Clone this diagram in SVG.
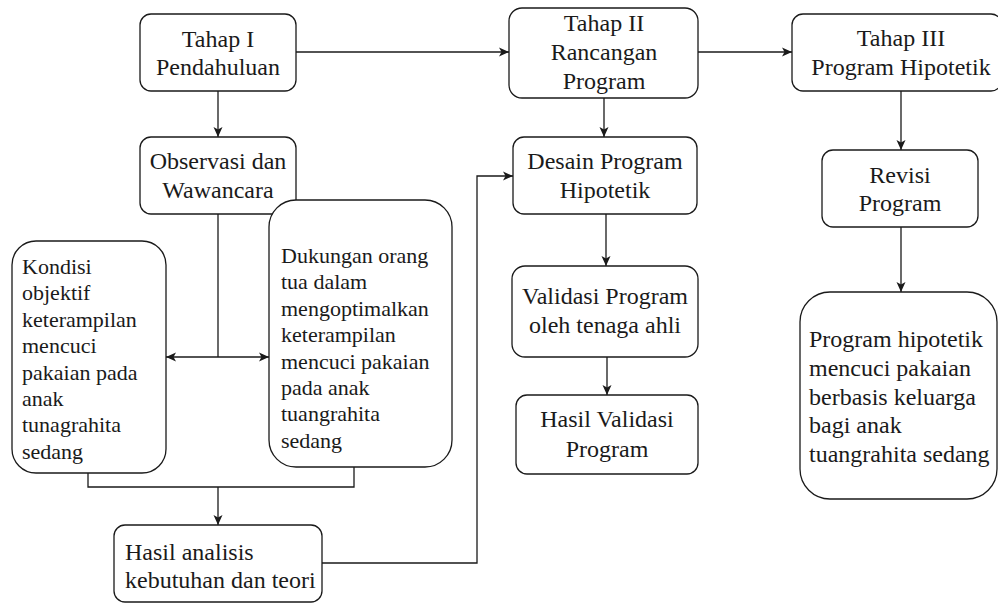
<svg xmlns="http://www.w3.org/2000/svg" width="998" height="603" viewBox="0 0 998 603">
<style>
.box{fill:#fff;stroke:#1a1a1a;stroke-width:1.3}
.t{font-size:24px;fill:#1a1a1a}
.s{font-size:22px}
.c{text-anchor:middle}
.ln{fill:none;stroke:#1a1a1a;stroke-width:1.3}
</style>
<defs>
<marker id="ar" viewBox="0 0 10 10" refX="10" refY="5" markerWidth="10" markerHeight="10" markerUnits="userSpaceOnUse" orient="auto">
<path d="M0,0.5 L10,5 L0,9.5 L2.5,5 z" fill="#1a1a1a"/>
</marker>
</defs>
<rect width="998" height="603" fill="#fff"/>
<g id="connectors">
<path class="ln" d="M296,52 H509" marker-end="url(#ar)"/>
<path class="ln" d="M698,52 H792" marker-end="url(#ar)"/>
<path class="ln" d="M218,91 V137" marker-end="url(#ar)"/>
<path class="ln" d="M604,98 V137" marker-end="url(#ar)"/>
<path class="ln" d="M901,91 V150" marker-end="url(#ar)"/>
<path class="ln" d="M218,214 V357"/>
<path class="ln" d="M218,357 H166" marker-end="url(#ar)"/>
<path class="ln" d="M218,357 H269" marker-end="url(#ar)"/>
<path class="ln" d="M88,473 V487 H354 V467"/>
<path class="ln" d="M218,487 V525" marker-end="url(#ar)"/>
<path class="ln" d="M322,563 H477 V176 H513" marker-end="url(#ar)"/>
<path class="ln" d="M606,214 V266" marker-end="url(#ar)"/>
<path class="ln" d="M607,357 V395" marker-end="url(#ar)"/>
<path class="ln" d="M901,227 V292" marker-end="url(#ar)"/>
</g>
<g id="nodes" font-family="Liberation Serif, DejaVu Serif, serif">
<g id="tahap1">
<rect class="box" x="140" y="14" width="156" height="77" rx="11"/>
<text class="t c" x="218" y="47">Tahap I</text>
<text class="t c" x="218" y="75">Pendahuluan</text>
</g>
<g id="observasi">
<rect class="box" x="140" y="137" width="156" height="77" rx="11"/>
<text class="t c" x="218" y="169">Observasi dan</text>
<text class="t c" x="218" y="198">Wawancara</text>
</g>
<g id="kondisi">
<rect class="box" x="12" y="241" width="154" height="232" rx="24"/>
<text class="t s" x="22" y="274">Kondisi</text>
<text class="t s" x="22" y="300">objektif</text>
<text class="t s" x="22" y="327">keterampilan</text>
<text class="t s" x="22" y="353">mencuci</text>
<text class="t s" x="22" y="380">pakaian pada</text>
<text class="t s" x="22" y="406">anak</text>
<text class="t s" x="22" y="432">tunagrahita</text>
<text class="t s" x="22" y="459">sedang</text>
</g>
<g id="dukungan">
<rect class="box" x="269" y="200" width="183" height="267" rx="27"/>
<text class="t s" x="281" y="263">Dukungan orang</text>
<text class="t s" x="281" y="289">tua dalam</text>
<text class="t s" x="281" y="316">mengoptimalkan</text>
<text class="t s" x="281" y="342">keterampilan</text>
<text class="t s" x="281" y="369">mencuci pakaian</text>
<text class="t s" x="281" y="395">pada anak</text>
<text class="t s" x="281" y="421">tuangrahita</text>
<text class="t s" x="281" y="448">sedang</text>
</g>
<g id="hasil-analisis">
<rect class="box" x="114" y="525" width="208" height="77" rx="11"/>
<text class="t" x="125" y="560">Hasil analisis</text>
<text class="t" x="125" y="588">kebutuhan dan teori</text>
</g>
<g id="tahap2">
<rect class="box" x="509" y="8" width="189" height="90" rx="13"/>
<text class="t c" x="604" y="31">Tahap II</text>
<text class="t c" x="604" y="60">Rancangan</text>
<text class="t c" x="604" y="89">Program</text>
</g>
<g id="desain">
<rect class="box" x="513" y="137" width="184" height="77" rx="11"/>
<text class="t c" x="605" y="169">Desain Program</text>
<text class="t c" x="605" y="198">Hipotetik</text>
</g>
<g id="validasi">
<rect class="box" x="512" y="266" width="186" height="91" rx="13"/>
<text class="t c" x="605" y="304">Validasi Program</text>
<text class="t c" x="605" y="333">oleh tenaga ahli</text>
</g>
<g id="hasil-validasi">
<rect class="box" x="516" y="395" width="182" height="79" rx="11"/>
<text class="t c" x="607" y="427">Hasil Validasi</text>
<text class="t c" x="607" y="457">Program</text>
</g>
<g id="tahap3">
<rect class="box" x="792" y="14" width="210" height="77" rx="11"/>
<text class="t c" x="901" y="46">Tahap III</text>
<text class="t c" x="901" y="75">Program Hipotetik</text>
</g>
<g id="revisi">
<rect class="box" x="822" y="150" width="156" height="77" rx="11"/>
<text class="t c" x="900" y="183">Revisi</text>
<text class="t c" x="900" y="211">Program</text>
</g>
<g id="program-hipotetik">
<rect class="box" x="800" y="292" width="197" height="207" rx="30"/>
<text class="t" x="809" y="347">Program hipotetik</text>
<text class="t" x="809" y="376">mencuci pakaian</text>
<text class="t" x="809" y="405">berbasis keluarga</text>
<text class="t" x="809" y="433">bagi anak</text>
<text class="t" x="809" y="462">tuangrahita sedang</text>
</g>
</g>
</svg>
